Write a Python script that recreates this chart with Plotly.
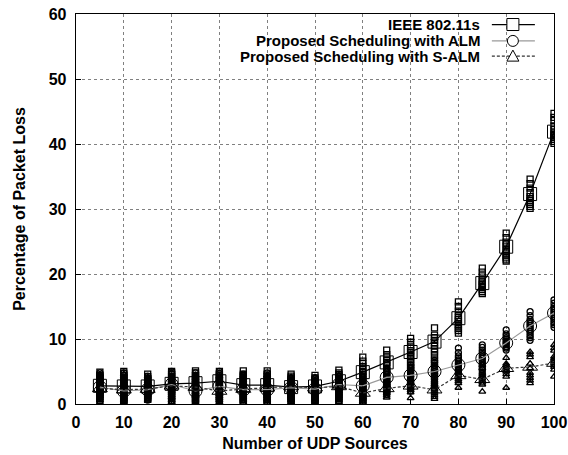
import plotly.graph_objects as go

x_sources = [5, 10, 15, 20, 25, 30, 35, 40, 45, 50, 55, 60, 65, 70, 75, 80, 85, 90, 95, 100]

ieee_mean = [2.8, 2.7, 2.7, 3.1, 3.2, 3.5, 2.9, 2.9, 2.6, 2.7, 3.5, 4.9, 6.4, 8.0, 9.6, 13.2, 18.6, 24.2, 32.3, 41.9]
alm_mean = [2.6, 2.0, 2.2, 3.0, 2.0, 2.7, 2.2, 2.2, 2.5, 2.3, 3.0, 2.8, 4.1, 4.4, 5.0, 6.0, 7.0, 9.4, 12.0, 14.0]
salm_mean = [2.4, 2.2, 2.3, 2.8, 2.6, 2.0, 2.3, 2.5, 2.7, 2.5, 2.7, 1.7, 2.4, 2.8, 2.2, 4.4, 3.8, 5.5, 5.7, 6.3]

ieee_runs = [
    [0.8, 1.2, 1.5, 1.8, 2.0, 2.2, 2.4, 2.6, 2.8, 3.0, 3.2, 3.4, 3.6, 3.9, 4.1, 4.4, 4.9],
    [0.3, 0.7, 1.0, 1.3, 1.6, 1.9, 2.2, 2.5, 2.7, 3.0, 3.2, 3.5, 3.8, 4.1, 4.4, 4.7, 5.0],
    [0.8, 1.1, 1.4, 1.7, 2.0, 2.3, 2.5, 2.7, 2.9, 3.2, 3.4, 3.7, 3.9, 4.2, 4.6],
    [0.3, 0.8, 1.2, 1.6, 2.0, 2.3, 2.6, 2.9, 3.1, 3.4, 3.6, 3.9, 4.2, 4.5, 4.8, 5.0],
    [0.5, 0.9, 1.3, 1.7, 2.0, 2.4, 2.7, 3.0, 3.2, 3.5, 3.8, 4.1, 4.4, 4.8, 5.1],
    [0.5, 0.9, 1.3, 1.7, 2.1, 2.5, 2.8, 3.2, 3.5, 3.8, 4.0, 4.3, 4.6, 5.0],
    [0.3, 0.7, 1.1, 1.5, 1.8, 2.1, 2.4, 2.7, 2.9, 3.2, 3.5, 3.8, 4.1, 4.4, 4.6, 5.1],
    [0.3, 0.7, 1.0, 1.4, 1.7, 2.0, 2.3, 2.6, 2.9, 3.2, 3.5, 3.8, 4.2, 4.6, 5.1],
    [0.5, 0.9, 1.2, 1.5, 1.8, 2.1, 2.4, 2.6, 2.9, 3.2, 3.4, 3.7, 4.0, 4.3, 4.6],
    [0.5, 0.9, 1.2, 1.5, 1.8, 2.1, 2.4, 2.6, 2.9, 3.2, 3.4, 3.7, 4.0, 4.4],
    [0.6, 1.0, 1.4, 1.8, 2.2, 2.6, 3.0, 3.3, 3.6, 3.9, 4.2, 4.5, 4.8, 5.2],
    [0.3, 0.8, 1.2, 1.7, 2.2, 2.7, 3.2, 3.7, 4.2, 4.6, 5.0, 5.4, 5.8, 6.2, 6.6, 7.2],
    [2.0, 2.5, 3.0, 3.5, 4.0, 4.5, 5.0, 5.5, 6.0, 6.4, 6.8, 7.2, 7.6, 8.3],
    [5.2, 5.6, 6.0, 6.4, 6.8, 7.2, 7.5, 7.9, 8.2, 8.6, 8.9, 9.5, 10.1],
    [4.2, 4.8, 5.5, 6.2, 6.8, 7.4, 8.0, 8.5, 9.0, 9.4, 9.8, 10.2, 10.6, 11.7],
    [10.9, 11.3, 11.6, 12.0, 12.3, 12.7, 13.0, 13.3, 13.6, 14.3, 15.0, 15.7],
    [17.0, 17.3, 17.6, 17.9, 18.1, 18.4, 18.6, 18.9, 19.1, 19.7, 20.3, 20.9],
    [22.0, 22.3, 22.6, 22.9, 23.2, 23.5, 23.8, 24.3, 24.6, 24.9, 25.6, 26.3],
    [30.1, 30.4, 30.7, 31.0, 31.3, 31.6, 31.9, 32.5, 33.2, 33.9, 34.6],
    [40.1, 40.4, 40.7, 41.0, 41.2, 41.5, 41.7, 42.2, 42.8, 43.6, 44.1, 44.7],
]

alm_runs = [
    [0.4, 0.8, 1.1, 1.5, 1.8, 2.1, 2.4, 2.7, 3.0, 3.3, 3.6, 3.9, 4.2, 4.5, 4.8],
    [0.2, 0.5, 0.8, 1.1, 1.4, 1.7, 2.0, 2.3, 2.6, 2.9, 3.3, 3.6, 4.0, 4.4, 4.8],
    [0.6, 0.9, 1.2, 1.5, 1.8, 2.1, 2.4, 2.7, 3.0, 3.3, 3.6, 3.9, 4.3],
    [0.2, 0.5, 0.9, 1.3, 1.7, 2.0, 2.4, 2.7, 3.0, 3.3, 3.6, 3.9, 4.3, 4.7, 5.0],
    [0.3, 0.6, 0.9, 1.2, 1.5, 1.8, 2.1, 2.4, 2.7, 3.0, 3.4, 3.7, 4.1, 4.4, 4.8],
    [0.4, 0.7, 1.0, 1.4, 1.7, 2.0, 2.4, 2.7, 3.0, 3.4, 3.7, 4.0, 4.4, 4.7, 5.0],
    [0.3, 0.6, 0.9, 1.2, 1.5, 1.8, 2.1, 2.4, 2.7, 3.0, 3.3, 3.6, 4.0, 4.3, 4.6],
    [0.3, 0.6, 0.9, 1.2, 1.5, 1.8, 2.1, 2.4, 2.7, 3.0, 3.4, 3.7, 4.1, 4.4, 4.8],
    [0.4, 0.7, 1.0, 1.3, 1.6, 1.9, 2.2, 2.5, 2.8, 3.1, 3.4, 3.7, 4.0],
    [0.3, 0.6, 0.9, 1.2, 1.5, 1.8, 2.1, 2.4, 2.7, 3.0, 3.3, 3.6, 4.0],
    [0.4, 0.8, 1.1, 1.5, 1.8, 2.1, 2.5, 2.8, 3.1, 3.5, 3.8, 4.2, 4.6],
    [0.3, 0.6, 1.0, 1.4, 1.8, 2.1, 2.5, 2.8, 3.1, 3.4, 3.7, 4.0, 4.3, 4.6, 5.0],
    [1.5, 1.9, 2.3, 2.7, 3.0, 3.4, 3.7, 4.0, 4.3, 4.6, 4.9, 5.2, 5.5, 6.2],
    [2.0, 2.4, 2.8, 3.2, 3.5, 3.9, 4.2, 4.5, 4.8, 5.1, 5.4, 5.7, 6.0],
    [2.5, 2.9, 3.3, 3.7, 4.0, 4.4, 4.7, 5.0, 5.3, 5.6, 6.0, 6.4, 6.7],
    [4.8, 5.1, 5.3, 5.6, 5.8, 6.1, 6.3, 6.6, 6.8, 7.1, 7.4, 7.9, 8.6],
    [4.9, 5.3, 5.6, 6.0, 6.3, 6.6, 7.0, 7.3, 7.6, 8.0, 8.3, 8.7, 9.1],
    [8.3, 8.6, 8.8, 9.1, 9.3, 9.5, 9.7, 10.0, 10.2, 10.5, 10.8, 11.4],
    [9.8, 10.2, 10.5, 10.9, 11.2, 11.5, 11.8, 12.1, 12.4, 12.7, 13.0, 13.6, 14.2],
    [11.8, 12.2, 12.5, 12.9, 13.2, 13.5, 13.8, 14.1, 14.4, 14.7, 15.0, 15.5, 16.0],
]

salm_runs = [
    [0.3, 0.6, 0.9, 1.2, 1.5, 1.8, 2.1, 2.4, 2.7, 3.0, 3.3, 3.6, 3.9, 4.2, 4.5],
    [0.2, 0.5, 0.8, 1.1, 1.4, 1.7, 2.0, 2.3, 2.6, 2.9, 3.2, 3.5, 3.9, 4.2, 4.6],
    [0.5, 0.8, 1.1, 1.4, 1.7, 2.0, 2.3, 2.6, 2.9, 3.2, 3.5, 3.8, 4.2],
    [0.3, 0.6, 1.0, 1.3, 1.7, 2.0, 2.4, 2.7, 3.0, 3.3, 3.6, 4.0, 4.3],
    [0.2, 0.5, 0.8, 1.2, 1.5, 1.8, 2.2, 2.5, 2.9, 3.2, 3.6, 4.0, 4.4],
    [0.3, 0.6, 0.9, 1.2, 1.5, 1.8, 2.1, 2.4, 2.7, 3.0, 3.4, 3.8, 4.2],
    [0.2, 0.5, 0.8, 1.1, 1.4, 1.7, 2.0, 2.3, 2.6, 2.9, 3.3, 3.6, 4.0],
    [0.2, 0.5, 0.8, 1.2, 1.5, 1.8, 2.2, 2.5, 2.9, 3.2, 3.6, 4.0, 4.4],
    [0.3, 0.6, 0.9, 1.2, 1.5, 1.8, 2.1, 2.4, 2.7, 3.0, 3.4, 3.7, 4.1],
    [0.2, 0.5, 0.8, 1.1, 1.4, 1.7, 2.0, 2.3, 2.6, 2.9, 3.3, 3.7, 4.1],
    [0.3, 0.6, 0.9, 1.3, 1.6, 1.9, 2.3, 2.6, 3.0, 3.3, 3.7, 4.0, 4.4],
    [0.2, 0.4, 0.7, 1.0, 1.2, 1.5, 1.7, 2.0, 2.2, 2.5, 2.8, 3.1, 3.4],
    [1.0, 1.3, 1.6, 1.9, 2.1, 2.4, 2.6, 2.9, 3.1, 3.4, 3.6],
    [0.9, 1.8, 2.1, 2.4, 2.7, 2.9, 3.2, 3.4, 3.7, 3.9, 4.4],
    [0.8, 1.1, 1.4, 1.7, 2.0, 2.3, 2.5, 2.8, 3.0, 3.3, 3.6],
    [2.5, 3.2, 3.5, 3.8, 4.1, 4.4, 4.7, 4.9, 5.4],
    [1.9, 3.0, 3.3, 3.6, 3.9, 4.2, 4.5, 4.8, 5.5, 6.0],
    [2.5, 4.2, 4.6, 5.0, 5.3, 5.6, 5.9, 6.2, 7.1],
    [3.2, 3.6, 4.0, 4.4, 4.8, 5.5, 6.2, 7.2, 7.6, 8.0],
    [4.2, 5.3, 5.7, 6.0, 6.3, 6.6, 7.0, 7.3, 8.2, 8.6, 9.1],
]

series_names = ["IEEE 802.11s", "Proposed Scheduling with ALM", "Proposed Scheduling with S-ALM"]
x_ticks = [0, 10, 20, 30, 40, 50, 60, 70, 80, 90, 100]
y_ticks = [0, 10, 20, 30, 40, 50, 60]

styles = [
    dict(symbol="square-open", line=dict(color="black", width=1.2)),
    dict(symbol="circle-open", line=dict(color="#9a9a9a", width=1.2)),
    dict(symbol="triangle-up-open", line=dict(color="#333333", width=1.2, dash="3px,2px")),
]

FONT = "Liberation Sans, Arial, Helvetica, sans-serif"

fig = go.Figure()

all_runs = [ieee_runs, alm_runs, salm_runs]
all_means = [ieee_mean, alm_mean, salm_mean]

for runs, st in zip(all_runs, styles):
    xs, ys = [], []
    for xv, rv in zip(x_sources, runs):
        for v in rv:
            xs.append(xv)
            ys.append(v)
    fig.add_trace(go.Scatter(
        x=xs, y=ys, mode="markers", showlegend=False, hoverinfo="skip",
        marker=dict(symbol=st["symbol"], size=6, color="black", line=dict(width=1.3, color="black")),
    ))

for name, means, st in zip(series_names, all_means, styles):
    fig.add_trace(go.Scatter(
        x=x_sources, y=means, mode="lines+markers", name=name, showlegend=False,
        line=st["line"],
        marker=dict(symbol=st["symbol"], size=13, color="black", line=dict(width=1, color="black")),
    ))

# manual gnuplot-style legend (text right, sample to the right)
leg_rows = [0.973, 0.931, 0.892]
for name, yy, st in zip(series_names, leg_rows, styles):
    fig.add_annotation(
        x=0.847, y=yy, xref="paper", yref="paper", xanchor="right", yanchor="middle",
        text=name, showarrow=False, borderpad=0,
        font=dict(family=FONT, size=15, color="black", weight="bold"),
    )
    ln = st["line"]
    fig.add_shape(type="line", xref="paper", yref="paper", x0=0.870, x1=0.960, y0=yy, y1=yy,
                  line=dict(color=ln["color"], width=ln["width"], dash=ln.get("dash", "solid")))
for yy, kind in zip(leg_rows, ["sq", "ci", "tr"]):
    common = dict(xref="paper", yref="paper", xsizemode="pixel", ysizemode="pixel",
                  xanchor=0.914, yanchor=yy, line=dict(color="black", width=1), fillcolor="white")
    if kind == "sq":
        fig.add_shape(type="rect", x0=-6, x1=6, y0=-6, y1=6, **common)
    elif kind == "ci":
        fig.add_shape(type="circle", x0=-5.5, x1=5.5, y0=-5.5, y1=5.5, **common)
    else:
        fig.add_shape(type="path", path="M -6 -5 L 6 -5 L 0 6 Z", **common)

axis_common = dict(
    showline=True, linecolor="black", linewidth=1.3, mirror=True,
    ticks="inside", ticklen=5, tickcolor="black",
    showgrid=True, gridcolor="#808080", gridwidth=1, griddash="dot",
    zeroline=False, automargin=False,
    tickfont=dict(family=FONT, size=16, color="black", weight="bold"),
)

fig.update_layout(
    width=568, height=455,
    margin=dict(l=76, r=14, t=14, b=51),
    paper_bgcolor="white", plot_bgcolor="white",
    xaxis=dict(range=[0, 100], tickvals=x_ticks, ticklabelstandoff=3,
               title=dict(text="Number of UDP Sources", standoff=8,
                          font=dict(family=FONT, size=16, color="black", weight="bold")),
               **axis_common),
    yaxis=dict(range=[0, 60], tickvals=y_ticks, ticklabelstandoff=5,
               title=dict(text="Percentage of Packet Loss", standoff=19,
                          font=dict(family=FONT, size=16, color="black", weight="bold")),
               **axis_common),
)

# remove the browser's default 8px body margin so the figure fills the window
fig.write_html(
    "out.html",
    config={"displayModeBar": False, "staticPlot": True},
    post_script="document.body.style.margin='0';document.body.style.overflow='hidden';",
)
